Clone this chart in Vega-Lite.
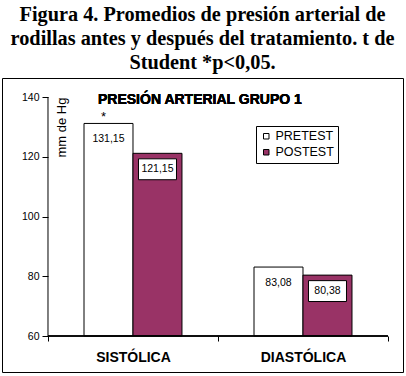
{
  "$schema": "https://vega.github.io/schema/vega-lite/v6.json",
  "width": 401,
  "height": 294,
  "autosize": {"type": "none"},
  "padding": {"left": 2, "top": 78, "right": 3, "bottom": 4},
  "background": "white",
  "title": {
    "text": ["Figura 4. Promedios de presión arterial de", "rodillas antes y después del tratamiento. t de", "Student *p<0,05."],
    "font": "Liberation Serif",
    "fontSize": 20.3,
    "fontWeight": "bold",
    "lineHeight": 24,
    "anchor": "middle",
    "frame": "group",
    "offset": 5,
    "color": "black"
  },
  "config": {
    "locale": {"number": {"decimal": ",", "thousands": ".", "grouping": [3], "currency": ["", ""]}},
    "view": {"stroke": "black", "strokeWidth": 1},
    "font": "Liberation Sans"
  },
  "data": {
    "values": [
      {"cat": "SISTÓLICA", "grupo": "PRETEST", "val": 131.15, "sig": "*"},
      {"cat": "SISTÓLICA", "grupo": "POSTEST", "val": 121.15, "sig": ""},
      {"cat": "DIASTÓLICA", "grupo": "PRETEST", "val": 83.08, "sig": ""},
      {"cat": "DIASTÓLICA", "grupo": "POSTEST", "val": 80.38, "sig": ""}
    ]
  },
  "encoding": {
    "x": {
      "field": "cat",
      "type": "nominal",
      "sort": null,
      "scale": {"paddingInner": 0, "paddingOuter": 0.1794, "align": 0.754},
      "axis": {
        "title": null,
        "orient": "bottom",
        "offset": -36,
        "domain": false,
        "tickBand": "extent",
        "ticks": true,
        "tickSize": 5,
        "tickColor": "black",
        "labelAngle": 0,
        "labelFont": "Liberation Sans",
        "labelFontSize": 14,
        "labelFontWeight": "bold",
        "labelColor": "black",
        "labelPadding": 9
      }
    }
  },
  "layer": [
    {
      "mark": {"type": "bar", "stroke": "black", "strokeWidth": 1},
      "encoding": {
        "xOffset": {"field": "grupo", "type": "nominal", "sort": null, "scale": {"paddingInner": 0, "paddingOuter": 0.735}},
        "y": {
          "field": "val",
          "type": "quantitative",
          "scale": {"domain": [47.95, 146.36], "nice": false, "zero": false},
          "axis": {
            "values": [60, 80, 100, 120, 140],
            "format": "d",
            "offset": -46,
            "domain": false,
            "grid": false,
            "tickSize": 6,
            "tickColor": "black",
            "labelFontSize": 10.5,
            "labelColor": "black",
            "labelPadding": 3,
            "title": "mm de Hg",
            "titleAngle": -90,
            "titleX": 13,
            "titleY": 49,
            "titleAlign": "center",
            "titleBaseline": "middle",
            "titleFontWeight": "normal",
            "titleFontSize": 13,
            "titleColor": "black"
          }
        },
        "y2": {"datum": 60},
        "color": {
          "field": "grupo",
          "type": "nominal",
          "scale": {"domain": ["PRETEST", "POSTEST"], "range": ["white", "#993366"]},
          "legend": {
            "title": null,
            "orient": "none",
            "legendX": 254,
            "legendY": 48,
            "direction": "vertical",
            "symbolType": "square",
            "symbolSize": 30,
            "symbolStrokeColor": "black",
            "symbolStrokeWidth": 1,
            "labelFontSize": 12.5,
            "labelColor": "black",
            "labelFont": "Liberation Sans",
            "strokeColor": "black",
            "fillColor": "white",
            "padding": 4,
            "rowPadding": 3,
            "labelOffset": 3
          }
        }
      }
    },
    {
      "mark": {"type": "bar", "stroke": "black", "strokeWidth": 1, "fill": null},
      "encoding": {
        "y": {"datum": 60},
        "y2": {"datum": 60}
      }
    },
    {
      "transform": [{"filter": "datum.cat === 'SISTÓLICA' && datum.grupo === 'PRETEST'"}],
      "mark": {"type": "rule", "color": "black", "strokeWidth": 1},
      "encoding": {
        "x": {"field": "cat", "type": "nominal", "sort": null, "bandPosition": 0},
        "y": {"datum": 60},
        "y2": {"datum": 140}
      }
    },
    {
      "transform": [{"filter": "datum.grupo === 'POSTEST'"}],
      "mark": {"type": "point", "shape": "M-1,0.29H1V1.39H-1Z", "size": 1444, "filled": true, "fill": "white", "stroke": "black", "strokeWidth": 1, "opacity": 1},
      "encoding": {
        "xOffset": {"field": "grupo", "type": "nominal", "sort": null, "scale": {"paddingInner": 0, "paddingOuter": 0.735}},
        "y": {"field": "val", "type": "quantitative"}
      }
    },
    {
      "mark": {"type": "text", "dy": 16, "baseline": "middle", "fontSize": 10.5, "color": "black"},
      "encoding": {
        "xOffset": {"field": "grupo", "type": "nominal", "sort": null, "scale": {"paddingInner": 0, "paddingOuter": 0.735}},
        "y": {"field": "val", "type": "quantitative"},
        "text": {"field": "val", "type": "quantitative", "format": ".2f"}
      }
    },
    {
      "transform": [{"filter": "datum.sig !== ''"}],
      "mark": {"type": "text", "dx": -5, "dy": -2, "baseline": "alphabetic", "fontSize": 13, "color": "black"},
      "encoding": {
        "xOffset": {"field": "grupo", "type": "nominal", "sort": null, "scale": {"paddingInner": 0, "paddingOuter": 0.735}},
        "y": {"field": "val", "type": "quantitative"},
        "text": {"field": "sig"}
      }
    },
    {
      "mark": {"type": "text", "text": "PRESIÓN ARTERIAL GRUPO 1", "fontSize": 14, "fontWeight": "bold", "color": "black", "align": "left", "baseline": "middle", "dx": 50, "dy": 3},
      "encoding": {
        "x": {"datum": "SISTÓLICA", "type": "nominal", "bandPosition": 0},
        "y": {"datum": 140}
      }
    }
  ]
}
